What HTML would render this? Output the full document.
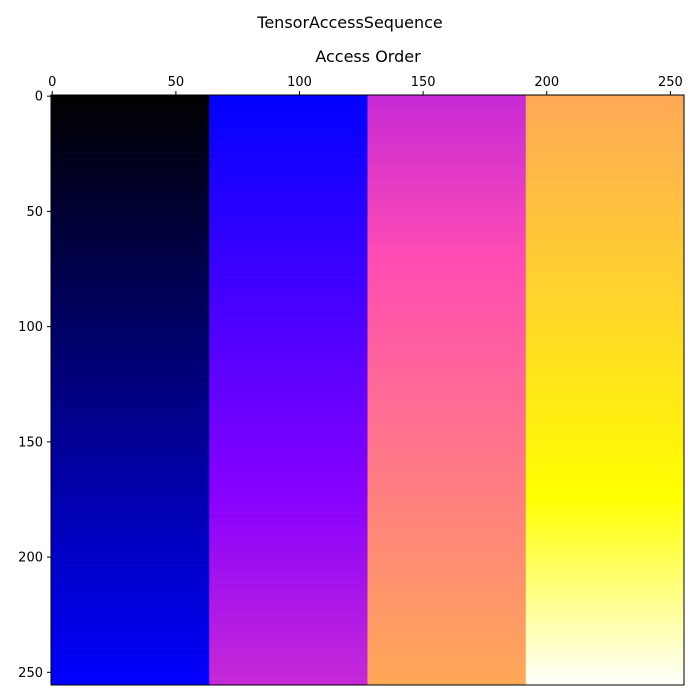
<!DOCTYPE html>
<html><head><meta charset="utf-8"><style>
html,body{margin:0;padding:0;background:#fff;width:700px;height:700px;overflow:hidden;font-family:"Liberation Sans","DejaVu Sans",sans-serif}
svg{display:block}
svg text{font-family:"DejaVu Sans","Liberation Sans",sans-serif}
</style></head><body>
<svg id="c" width="700" height="700" xmlns="http://www.w3.org/2000/svg">
<text x="350" y="28" text-anchor="middle" font-size="16">TensorAccessSequence</text>
<text x="368" y="62" text-anchor="middle" font-size="16">Access Order</text>
<g id="img"></g>
<rect x="51" y="95" width="633" height="590" fill="none" stroke="#000" stroke-width="1"/>
<g id="ax"></g>
</svg>
<script>
const blockStarts=[0,64,128,192];
const blockWidth=64;
const nRows=256;
const nCols=256;
const xTicks=[0,50,100,150,200,250];
const yTicks=[0,50,100,150,200,250];
const L=51,R=684,T=95,B=685;
const sx=v=>L+(v+0.5)*(R-L)/nCols;
const sy=v=>T+(v+0.5)*(B-T)/nRows;
const cl=v=>Math.max(0,Math.min(1,v));
function gnuplot2(x){
  const r=cl(x/0.32-0.78125), g=cl(2*x-0.84);
  let b;
  if(x<0.25)b=4*x;else if(x<0.42)b=1;else if(x<0.92)b=-2*x+1.84;else b=x/0.08-11.5;
  b=cl(b);
  return `rgb(${Math.round(r*255)},${Math.round(g*255)},${Math.round(b*255)})`;
}
const NS="http://www.w3.org/2000/svg";
const img=document.getElementById('img');
const total=nRows*nCols-1;
blockStarts.forEach((c0,bi)=>{
  for(let r=0;r<nRows;r++){
    const v=(bi*nRows*blockWidth+r*blockWidth+blockWidth/2)/total;
    const e=document.createElementNS(NS,'rect');
    
    
    const x0=sx(c0-0.5), x1=sx(c0+blockWidth-0.5);
    const y0=sy(r-0.5), y1=sy(r+0.5);
    e.setAttribute('x',x0);e.setAttribute('y',y0);
    e.setAttribute('width',x1-x0+0.3);e.setAttribute('height',y1-y0+0.3);
    e.setAttribute('fill',gnuplot2(v));
    img.appendChild(e);
  }
});
const ax=document.getElementById('ax');
xTicks.forEach(t=>{
  const x=sx(t);
  const l=document.createElementNS(NS,'line');
  
  
  l.setAttribute('x1',x);l.setAttribute('x2',x);l.setAttribute('y1',T);l.setAttribute('y2',T-4);l.setAttribute('stroke','#000');
  ax.appendChild(l);
  const tx=document.createElementNS(NS,'text');
  
  
  tx.setAttribute('x',x);tx.setAttribute('y',T-9);tx.setAttribute('text-anchor','middle');tx.setAttribute('font-size','13');
  tx.textContent=t;ax.appendChild(tx);
});
yTicks.forEach(t=>{
  const y=sy(t);
  const l=document.createElementNS(NS,'line');
  
  
  l.setAttribute('x1',L);l.setAttribute('x2',L-4);l.setAttribute('y1',y);l.setAttribute('y2',y);l.setAttribute('stroke','#000');
  ax.appendChild(l);
  const tx=document.createElementNS(NS,'text');
  
  
  tx.setAttribute('x',L-8);tx.setAttribute('y',y+4.5);tx.setAttribute('text-anchor','end');tx.setAttribute('font-size','13');
  tx.textContent=t;ax.appendChild(tx);
});
</script>
</body></html>
